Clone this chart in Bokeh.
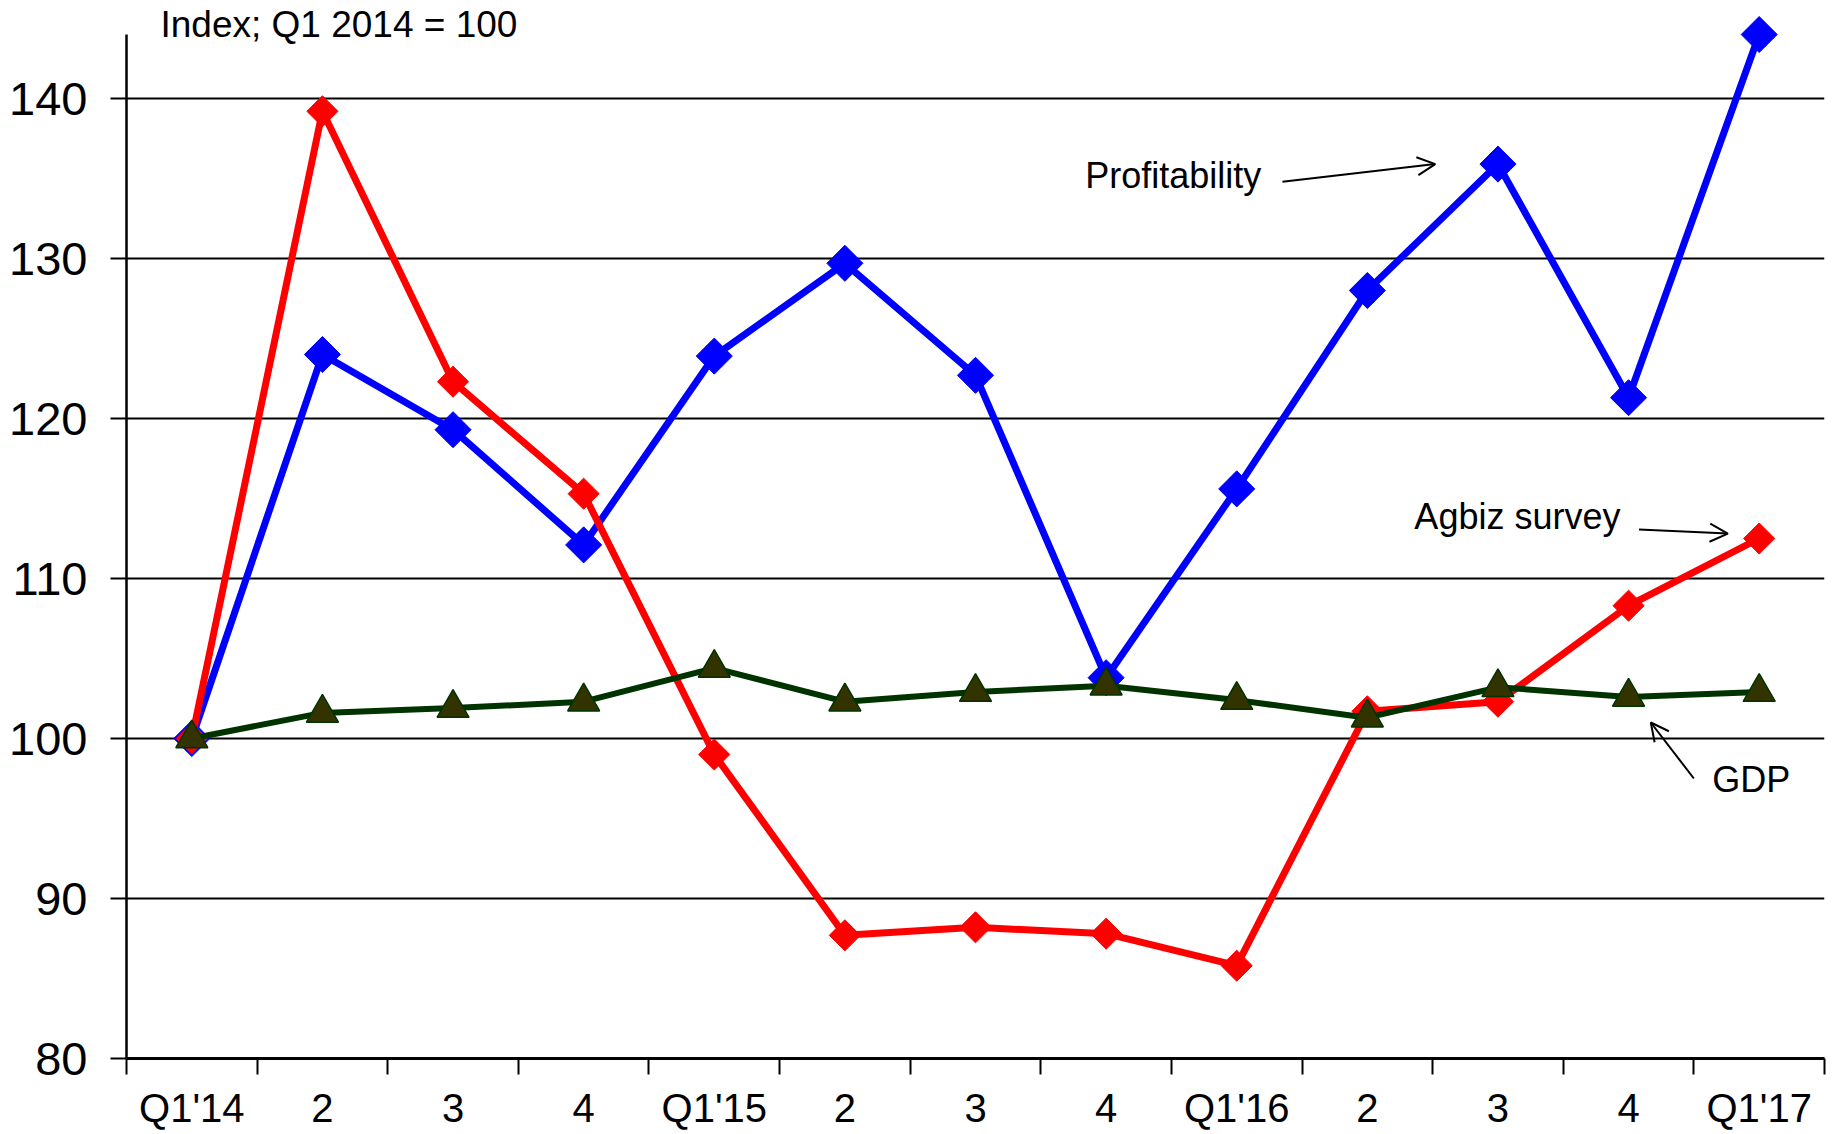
import math
from bokeh.plotting import figure
from bokeh.models import FixedTicker, Label, Arrow, OpenHead
from bokeh.embed import file_html
from bokeh.resources import INLINE

quarters = ["Q1'14", "2", "3", "4", "Q1'15", "2", "3", "4", "Q1'16", "2", "3", "4", "Q1'17"]
profitability = [100.0, 124.0, 119.3, 112.1, 123.9, 129.7, 122.7, 103.8, 115.6, 128.0, 135.9, 121.3, 144.0]
agbiz = [100.0, 139.2, 122.3, 115.3, 99.0, 87.7, 88.2, 87.8, 85.8, 101.7, 102.3, 108.3, 112.5]
gdp = [100.0, 101.6, 101.9, 102.3, 104.4, 102.3, 102.9, 103.3, 102.4, 101.3, 103.2, 102.6, 102.9]
y_ticks = [80, 90, 100, 110, 120, 130, 140]
unit_label = "Index; Q1 2014 = 100"

x = list(range(len(quarters)))

p = figure(width=1830, height=1132, x_range=(-0.5, len(quarters) - 0.5), y_range=(80, 146.125),
           toolbar_location=None, output_backend="svg",
           min_border_left=126, min_border_right=6, min_border_top=0, min_border_bottom=74)
p.outline_line_color = None
p.background_fill_color = "white"

# grid
p.xgrid.visible = False
p.ygrid.grid_line_color = "black"
p.ygrid.grid_line_width = 2

# x axis
xa = p.xaxis[0]
xa.ticker = FixedTicker(ticks=x, minor_ticks=[i - 0.5 for i in range(len(quarters) + 1)])
xa.major_label_overrides = {i: q for i, q in enumerate(quarters)}
xa.major_tick_in = 0
xa.major_tick_out = 0
xa.minor_tick_in = 0
xa.minor_tick_out = 16
xa.minor_tick_line_color = "black"
xa.minor_tick_line_width = 2
xa.axis_line_color = "black"
xa.axis_line_width = 3
xa.major_label_text_font = "Liberation Sans"
xa.major_label_text_font_size = "40px"
xa.major_label_text_color = "black"
xa.major_label_standoff = 11

# y axis
ya = p.yaxis[0]
ya.ticker = FixedTicker(ticks=y_ticks)
ya.bounds = (80, max(profitability))
ya.major_tick_in = 0
ya.major_tick_out = 16
ya.major_tick_line_width = 2
ya.major_tick_line_color = "black"
ya.minor_tick_out = 0
ya.minor_tick_in = 0
ya.axis_line_color = "black"
ya.axis_line_width = 2.5
ya.major_label_text_font = "Liberation Sans"
ya.major_label_text_font_size = "47px"
ya.major_label_text_color = "black"
ya.major_label_standoff = 23

# series
p.line(x, profitability, line_color="#0000FF", line_width=7)
p.scatter(x, profitability, marker="square", angle=math.pi / 4, size=25.5,
          fill_color="#0000FF", line_color="#0000FF")
p.line(x, agbiz, line_color="#FF0000", line_width=7)
p.scatter(x, agbiz, marker="square", angle=math.pi / 4, size=22,
          fill_color="#FF0000", line_color="#FF0000")
p.line(x, gdp, line_color="#003300", line_width=6)
p.scatter(x, gdp, marker="triangle", size=32, fill_color="#333300", line_color="#003300", line_width=1.5)

# annotations
font = "Liberation Sans"
p.add_layout(Label(x=-0.24, y=144.6, text=unit_label, text_font=font, text_font_size="37px",
                   text_baseline="middle", text_align="left", text_color="black"))
p.add_layout(Label(x=6.84, y=135.2, text="Profitability", text_font=font, text_font_size="36px",
                   text_baseline="middle", text_align="left", text_color="black"))
p.add_layout(Label(x=9.36, y=113.9, text="Agbiz survey", text_font=font, text_font_size="36px",
                   text_baseline="middle", text_align="left", text_color="black"))
p.add_layout(Label(x=11.64, y=97.44, text="GDP", text_font=font, text_font_size="36px",
                   text_baseline="middle", text_align="left", text_color="black"))

def arrow(xs, ys, xe, ye):
    p.add_layout(Arrow(end=OpenHead(size=18, line_width=2, line_color="black"),
                       x_start=xs, y_start=ys, x_end=xe, y_end=ye,
                       line_width=2, line_color="black"))

arrow(8.35, 134.8, 9.52, 135.9)
arrow(11.08, 113.06, 11.76, 112.81)
arrow(11.50, 97.5, 11.17, 101.0)

open("out.html", "w").write(file_html(p, INLINE))
